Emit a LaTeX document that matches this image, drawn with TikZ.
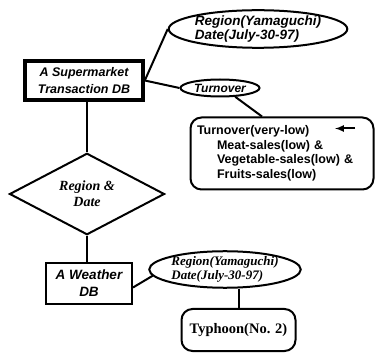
\documentclass[tikz,border=0pt]{standalone}
\usepackage{fontspec}
\usetikzlibrary{positioning,shapes,calc,arrows}
\newfontfamily\arialfont{Liberation Sans}
\newfontfamily\timesfont{Liberation Serif}

\begin{document}
\begin{tikzpicture}[x=1pt,y=1pt,line width=2pt,
    db node/.style={draw,rectangle,inner sep=0pt,align=center,font=\arialfont\bfseries\itshape},
    attr node/.style={draw,ellipse,inner sep=0pt,align=left},
    key node/.style={draw,diamond,inner sep=0pt,align=center,font=\timesfont\bfseries\itshape\fontsize{14}{16}\selectfont},
    cond node/.style={draw,rectangle,rounded corners=11pt,inner sep=0pt}
                      ]
   \useasboundingbox (0,0) rectangle (375,359);
   \node[db node,line width=3.6pt,minimum width=118pt,minimum height=39pt,
         font=\arialfont\bfseries\itshape\fontsize{12.5}{17}\selectfont] (sdb) at (84,278.5) {A Supermarket\\Transaction DB};
   \node[attr node,minimum width=161pt,minimum height=31pt,
         font=\arialfont\bfseries\itshape\fontsize{13.5}{14}\selectfont] (reg1) at (258,330) {Region(Yamaguchi)\\Date(July-30-97)};
   \node[attr node,minimum width=79pt,minimum height=17pt,
         font=\arialfont\bfseries\itshape\fontsize{12}{14}\selectfont] (turn) at (220,271) {Turnover};
   \node[cond node,minimum width=183pt,minimum height=72pt,text width=170pt,align=left,
         font=\arialfont\bfseries\fontsize{12.5}{14.5}\selectfont] (rule) at (282,205.5)
         {Turnover(very-low)\\\hspace*{20pt}Meat-sales(low) \&\\\hspace*{20pt}Vegetable-sales(low) \&\\\hspace*{20pt}Fruits-sales(low)};
   \node[key node,minimum width=155pt,minimum height=65pt] (rd) at (87,165) {Region \&\\Date};
   \node[db node,minimum width=86pt,minimum height=41pt,
         font=\arialfont\bfseries\itshape\fontsize{13.5}{17}\selectfont] (wdb) at (89,75.5) {A Weather\\DB};
   \node[attr node,minimum width=123pt,minimum height=34pt,
         font=\timesfont\bfseries\itshape\fontsize{13}{14}\selectfont] (reg2) at (225,89.5) {Region(Yamaguchi)\\Date(July-30-97)};
   \node[cond node,minimum width=114pt,minimum height=42pt,
         font=\timesfont\bfseries\fontsize{14.5}{16}\selectfont] (typh) at (238.5,29) {Typhoon(No. 2)};
   % arrow inside the rule box
   \coordinate (arrs) at ($(rule.center)+(73,25)$);
   \coordinate (arre) at ($(rule.center)+(53,25)$);
   \draw[-latex,line width=2pt] (arrs) -- (arre);
   \path%
    (sdb.east) edge (reg1.west)
    (sdb.east) edge (turn.west)
    (turn.-30) edge ([xshift=-20pt]rule.north)
    (sdb.south -| rd.north) edge (rd.north)
    (rd.south) edge (rd.south |- wdb.north)
    ([yshift=-4pt]wdb.east) edge (reg2.185)
    (reg2.south -| typh.north) edge (typh.north);
\end{tikzpicture}
\end{document}
